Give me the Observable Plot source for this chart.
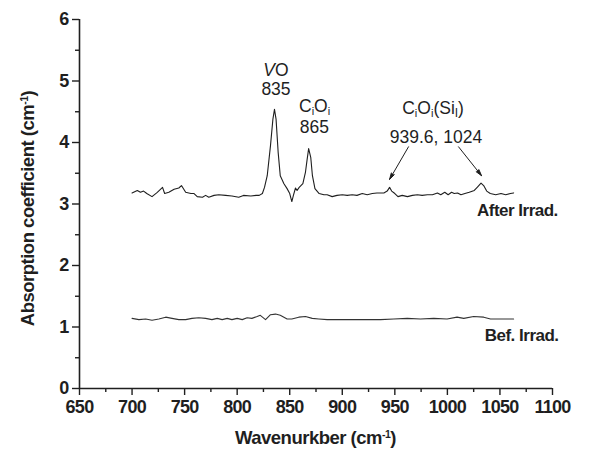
<!DOCTYPE html>
<html>
<head>
<meta charset="utf-8">
<script src="https://cdn.jsdelivr.net/npm/d3@7"></script>
<script src="https://cdn.jsdelivr.net/npm/@observablehq/plot@0.6"></script>
<style>
  html, body { margin: 0; padding: 0; background: #fff; }
  #chart { width: 600px; height: 457px; }
  #chart svg text.bold-lbl { font-weight: 700 !important; }
</style>
</head>
<body>
<div id="chart"></div>
<script>
// ---- data ----
const xTicks = [650, 700, 750, 800, 850, 900, 950, 1000, 1050, 1100];
const xMinorTicks = [675, 725, 775, 825, 875, 925, 975, 1025, 1075];
const yTicks = [0, 1, 2, 3, 4, 5, 6];
const yMinorTicks = [0.5, 1.5, 2.5, 3.5, 4.5, 5.5];

const afterX = [700,705,708,711,714,719,724,729,731,735,740,744.5,747,751,756,759,762,767,770,773,778,782.5,789,795,801.5,806,813,818,821,824,826,828.6,831.7,834,835.5,837,839,841,844.5,847.5,850,852,853.5,855.5,857,859,862.5,865,866.6,868,870,871.6,874,878,882.5,885.6,890.4,895,900,904.7,909.4,914,919,923.7,928.5,933,939.6,942.7,945,947,950,953,957,962,966.7,971.5,976,981,985.8,990.5,993.7,997.5,1000.7,1004,1006.5,1009.7,1012.9,1016.7,1020.8,1025.6,1028.8,1032,1034.5,1037.4,1040.8,1046,1051,1055.5,1060,1063];
const afterY = [3.18,3.22,3.19,3.21,3.17,3.12,3.19,3.27,3.17,3.19,3.24,3.26,3.30,3.19,3.17,3.17,3.12,3.11,3.14,3.11,3.14,3.15,3.14,3.13,3.11,3.14,3.13,3.14,3.14,3.17,3.27,3.46,3.95,4.38,4.54,4.38,3.84,3.46,3.33,3.25,3.17,3.04,3.14,3.26,3.22,3.27,3.33,3.52,3.73,3.90,3.76,3.46,3.25,3.17,3.15,3.15,3.12,3.14,3.15,3.14,3.15,3.14,3.17,3.15,3.17,3.18,3.18,3.21,3.27,3.21,3.17,3.12,3.14,3.12,3.14,3.15,3.14,3.15,3.15,3.18,3.15,3.19,3.15,3.19,3.17,3.18,3.15,3.17,3.19,3.22,3.28,3.34,3.30,3.21,3.17,3.15,3.17,3.15,3.17,3.18];

const befX = [700,706.5,713,719,725.5,732,738,744.5,751,757,763.5,770,776,781,785.7,790.5,795,800,804.8,809.5,814,819,822,827,831.7,836.5,841,847.5,852,858.6,865,871.4,877.7,885.6,898,911,923.7,936.4,949,961.8,974.4,987,999.7,1009.2,1015.6,1025,1034.6,1041,1050.5,1063];
const befY = [1.14,1.12,1.13,1.11,1.13,1.16,1.14,1.12,1.12,1.14,1.15,1.14,1.12,1.14,1.12,1.14,1.12,1.14,1.12,1.15,1.14,1.17,1.19,1.12,1.20,1.21,1.19,1.13,1.13,1.16,1.17,1.14,1.13,1.12,1.12,1.12,1.12,1.12,1.13,1.14,1.13,1.14,1.13,1.16,1.14,1.17,1.16,1.13,1.13,1.13];

const arrowX1 = [963, 1010.6];
const arrowY1 = [3.93, 3.93];
const arrowX2 = [945, 1032.5];
const arrowY2 = [3.40, 3.46];

const seriesLabels = ["After Irrad.", "Bef. Irrad."];

// ---- tables built from arrays ----
const after = afterX.map((x, i) => ({x, y: afterY[i]}));
const bef = befX.map((x, i) => ({x, y: befY[i]}));
const arrows = arrowX1.map((x1, i) => ({x1, y1: arrowY1[i], x2: arrowX2[i], y2: arrowY2[i]}));

const ink = "#1f1f1f";
const FONT = "'Liberation Sans', Arial, sans-serif";
const plot = Plot.plot({
  width: 600,
  height: 457,
  marginLeft: 79,
  marginRight: 48,
  marginTop: 19,
  marginBottom: 69,
  x: {domain: [650, 1100]},
  y: {domain: [0, 6]},
  style: {fontFamily: FONT, color: ink, background: "#fff"},
  marks: [
    Plot.axisX(xTicks, {tickSize: 7, label: null, tickFormat: () => "", strokeWidth: 1.4}),
    Plot.axisX(xMinorTicks, {tickSize: 4, label: null, tickFormat: () => "", strokeWidth: 1.4}),
    Plot.axisY(yTicks, {tickSize: 7, label: null, tickFormat: () => "", strokeWidth: 1.4}),
    Plot.axisY(yMinorTicks, {tickSize: 4, label: null, tickFormat: () => "", strokeWidth: 1.4}),
    // bold tick labels
    Plot.text(xTicks, {x: d => d, y: 0, text: d => String(d), dy: 19, fontSize: 18, fontWeight: "bold", lineAnchor: "middle", fill: ink, className: "bold-lbl"}),
    Plot.text(yTicks, {x: 650, y: d => d, text: d => String(d), dx: -11, textAnchor: "end", fontSize: 18, fontWeight: "bold", fill: ink, className: "bold-lbl"}),
    Plot.ruleY([0], {x1: 650, x2: 1100, stroke: ink, strokeWidth: 1.6}),
    Plot.ruleX([650], {y1: 0, y2: 6, stroke: ink, strokeWidth: 1.6}),
    Plot.line(after, {x: "x", y: "y", stroke: ink, strokeWidth: 1.1}),
    Plot.line(bef, {x: "x", y: "y", stroke: "#333", strokeWidth: 1.1}),
    Plot.arrow(arrows, {x1: "x1", y1: "y1", x2: "x2", y2: "y2", stroke: ink, fill: ink, strokeWidth: 1, headLength: 10, headAngle: 30})
  ]
});
document.getElementById("chart").appendChild(plot);

const svg = d3.select(plot);
svg.selectAll("g.bold-lbl text, text.bold-lbl").attr("class", "bold-lbl").attr("letter-spacing", -0.7);

// ---- text annotations (positioned via Plot scales) ----
const sx = plot.scale("x"), sy = plot.scale("y");
function addText(x, y, parts, opts = {}) {
  const t = svg.append("text")
    .attr("x", sx.apply(x))
    .attr("y", sy.apply(y))
    .attr("fill", ink)
    .attr("font-family", FONT)
    .attr("font-size", opts.size || 17.5)
    .attr("font-weight", opts.weight || "normal")
    .attr("text-anchor", opts.anchor || "start");
  if (opts.spacing) t.attr("letter-spacing", opts.spacing);
  for (const p of parts) {
    const s = t.append("tspan").text(p.t);
    if (p.italic) s.attr("font-style", "italic");
    if (p.sub) s.attr("baseline-shift", "-25%").attr("font-size", p.size || 11);
    if (p.sup) s.attr("baseline-shift", "super").attr("font-size", 10);
  }
  return t;
}
addText(837.4, 5.08, [{t: "V", italic: true}, {t: "O"}], {anchor: "middle"});
addText(837.4, 4.77, [{t: "835"}], {anchor: "middle"});
addText(859.3, 4.49, [{t: "C"}, {t: "i", sub: true}, {t: "O"}, {t: "i", sub: true}]);
addText(874, 4.14, [{t: "865"}], {anchor: "middle"});
addText(957.5, 4.45, [{t: "C"}, {t: "i", sub: true}, {t: "O"}, {t: "i", sub: true}, {t: "(Si"}, {t: "I", sub: true, size: 12}, {t: ")"}]);
addText(989.6, 3.98, [{t: "939.6, 1024"}], {anchor: "middle"});
addText(1028.6, 2.80, [{t: seriesLabels[0]}], {size: 17, weight: "bold", spacing: -0.5});
addText(1036, 0.76, [{t: seriesLabels[1]}], {size: 17, weight: "bold", spacing: -0.5});

// ---- axis titles ----
const xt = svg.append("text")
  .attr("x", (sx.apply(650) + sx.apply(1100)) / 2).attr("y", 444)
  .attr("text-anchor", "middle").attr("fill", ink)
  .attr("font-family", FONT)
  .attr("font-size", 18.5).attr("font-weight", "bold").attr("letter-spacing", -0.5);
xt.append("tspan").text("Wavenurkber (cm");
xt.append("tspan").text("-1").attr("baseline-shift", "super").attr("font-size", 10.5);
xt.append("tspan").text(")");

const yt = svg.append("text")
  .attr("transform", `translate(34,${(sy.apply(0) + sy.apply(6)) / 2 + 5}) rotate(-90)`)
  .attr("text-anchor", "middle").attr("fill", ink)
  .attr("font-family", FONT)
  .attr("font-size", 18.5).attr("font-weight", "bold").attr("letter-spacing", -0.5);
yt.append("tspan").text("Absorption coefficient (cm");
yt.append("tspan").text("-1").attr("baseline-shift", "super").attr("font-size", 10.5);
yt.append("tspan").text(")");
</script>
</body>
</html>
